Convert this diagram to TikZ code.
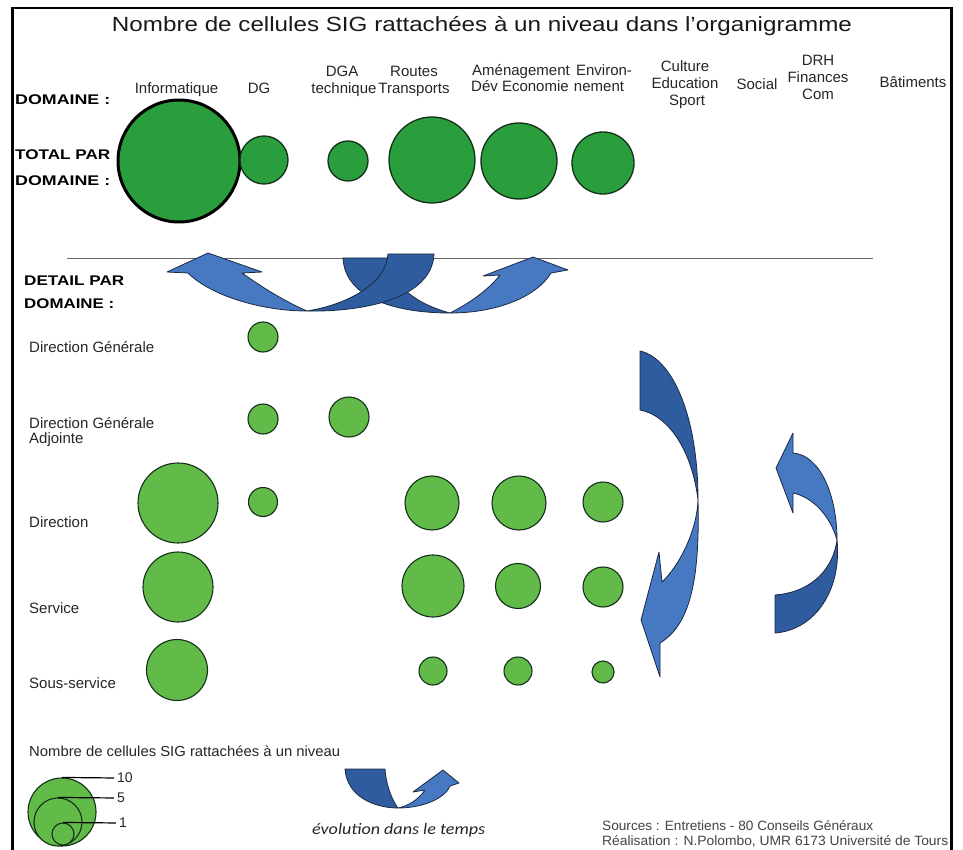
\documentclass[tikz,border=0pt]{standalone}
\usepackage{fontspec}
\setmainfont{Liberation Sans}
\newfontfamily\evofont{Carlito}
\usepackage{graphicx}
\usetikzlibrary{shapes.geometric}
\definecolor{totgreen}{HTML}{2A9D3C}
\definecolor{detgreen}{HTML}{62BB48}
\definecolor{circline}{HTML}{14301A}
\definecolor{bluedark}{HTML}{2F5C9E}
\definecolor{bluelight}{HTML}{4679C2}
\definecolor{blueline}{HTML}{1A2A44}
\definecolor{labgray}{HTML}{262626}
\definecolor{srcgray}{HTML}{444444}
\newcommand{\wbox}[2]{\resizebox{#1}{\height}{#2}}
\begin{document}
\begin{tikzpicture}[x=1pt,y=-1pt,
  lbl/.style={font=\fontsize{15}{17}\selectfont, text=labgray, inner sep=0pt, anchor=base},
  lblw/.style={lbl, anchor=base west},
  boldlbl/.style={font=\bfseries\fontsize{14}{16}\selectfont, text=black, inner sep=0pt, anchor=base west},
  tot/.style={circle, draw=circline, fill=totgreen, line width=1.3pt, inner sep=0pt, minimum size=#1},
  det/.style={circle, draw=circline, fill=detgreen, line width=1.1pt, inner sep=0pt, minimum size=#1},
  ribback/.style={fill=bluedark, draw=blueline, line width=0.8pt, line join=round},
  ribfront/.style={fill=bluelight, draw=blueline, line width=0.8pt, line join=round},
  legline/.style={line width=1.2pt, shorten >=3pt}
]
\fill[white] (0,0) rectangle (963,850);
\useasboundingbox (0,0) rectangle (963,850);

% frame
\draw[line width=2.4pt] (12.5,850) -- (12.5,8) -- (951.5,8) -- (951.5,850);

% title
\node[inner sep=0pt, anchor=base, text=black!90, font=\fontsize{20.5}{24}\selectfont] (title) at (482,32)
  {\wbox{740pt}{Nombre de cellules SIG rattachées à un niveau dans l'organigramme}};

% header
\node[boldlbl] (hdom) at (15,105) {\wbox{95pt}{DOMAINE :}};
\node[lbl] (cinfo) at (176.5,94) {Informatique};
\node[lbl] (cdg) at (259,94) {DG};
\node[lbl] (cdga1) at (342,77) {DGA};
\node[lbl] (cdga2) at (344,94) {technique};
\node[lbl] (crt1) at (414,77) {Routes};
\node[lbl] (crt2) at (414,94) {Transports};
\node[lbl] (cam1) at (521,76) {Aménagement};
\node[lbl] (cam2) at (520,92) {Dév Economie};
\node[lbl] (cenv1) at (604,76) {Environ-};
\node[lbl] (cenv2) at (599,92) {nement};
\node[lbl] (ccul1) at (685,72) {Culture};
\node[lbl] (ccul2) at (685,89) {Education};
\node[lbl] (ccul3) at (687,106) {Sport};
\node[lbl] (csoc) at (757,90) {Social};
\node[lbl] (cdrh1) at (818,66) {DRH};
\node[lbl] (cdrh2) at (818,83) {Finances};
\node[lbl] (cdrh3) at (818,100) {Com};
\node[lbl] (cbat) at (913,88) {Bâtiments};

% totals
\node[boldlbl] (htot1) at (15,160) {\wbox{95pt}{TOTAL PAR}};
\node[boldlbl] (htot2) at (15,186) {\wbox{95pt}{DOMAINE :}};
\node[tot=122pt, draw=black, line width=3pt] (tinfo) at (179,161) {};
\node[tot=48pt] (tdg) at (264,160) {};
\node[tot=40pt] (tdga) at (348,161) {};
\node[tot=86pt] (trt) at (432,160) {};
\node[tot=76pt] (tam) at (519,161) {};
\node[tot=62pt] (tenv) at (603,163) {};

% separator
\coordinate (sepL) at (67,258);
\coordinate (sepR) at (873,258);
\draw[black!60, line width=0.9pt] (sepL) -- (sepR);

\node[boldlbl] (hdet1) at (24,285) {\wbox{100pt}{DETAIL PAR}};
\node[boldlbl] (hdet2) at (24,308) {\wbox{90pt}{DOMAINE :}};

% top crossing arrows
% right-pointing (tail left)
\path[ribback] (343,258) .. controls (345,300) and (400,313) .. (450,313)
   .. controls (420,305) and (392,288) .. (388,258) -- cycle;
\path[ribfront] (450,313) .. controls (500,313) and (538,295) .. (551,273) -- (568,270) -- (533,257)
   -- (483,276) -- (500,275) .. controls (490,288) and (472,302) .. (450,313) -- cycle;
% left-pointing (tail right)
\path[ribback] (434,254) .. controls (432,300) and (360,312) .. (307,311)
   .. controls (345,305) and (386,285) .. (388,254) -- cycle;
\path[ribfront] (307,311) .. controls (260,311) and (210,295) .. (188,273) -- (167,272) -- (208,253)
   -- (262,272) -- (242,273) .. controls (262,287) and (282,300) .. (307,311) -- cycle;

% row labels
\node[lblw] (rdg) at (29,352) {Direction Générale};
\node[lblw] (rdga1) at (29,428) {Direction Générale};
\node[lblw] (rdga2) at (29,443) {Adjointe};
\node[lblw] (rdir) at (29,527) {Direction};
\node[lblw] (rser) at (29,613) {Service};
\node[lblw] (rsous) at (29,688) {Sous-service};

% detail circles
\node[det=30pt] (d1dg) at (263,337) {};
\node[det=30pt] (d2dg) at (263,419) {};
\node[det=40pt] (d2dga) at (349,417) {};
\node[det=80pt] (d3info) at (178,503) {};
\node[det=29pt] (d3dg) at (263,502) {};
\node[det=54pt] (d3rt) at (432,503) {};
\node[det=54pt] (d3am) at (519,503) {};
\node[det=40pt] (d3env) at (603,502) {};
\node[det=70pt] (d4info) at (178,587) {};
\node[det=62pt] (d4rt) at (433,586) {};
\node[det=45pt] (d4am) at (518,586) {};
\node[det=40pt] (d4env) at (603,587) {};
\node[det=61pt] (d5info) at (177,670) {};
\node[det=28pt] (d5rt) at (433,671) {};
\node[det=28pt] (d5am) at (518,671) {};
\node[det=22pt] (d5env) at (603,672) {};

% right arrows
\path[ribback] (640,351) .. controls (672,358) and (698,415) .. (698,500)
   .. controls (692,450) and (668,415) .. (640,410) -- cycle;
\path[ribfront] (698,500) .. controls (697,530) and (680,565) .. (662,582) -- (659,552) -- (641,620)
   -- (660,677) -- (660,643) .. controls (690,625) and (700,580) .. (698,500) -- cycle;

\path[ribfront] (793,453) .. controls (820,455) and (837,495) .. (837,540)
   .. controls (830,515) and (812,497) .. (793,493) -- (793,513) -- (776,468) -- (793,433) -- cycle;
\path[ribback] (837,540) .. controls (842,590) and (815,630) .. (775,633) -- (775,595)
   .. controls (805,593) and (832,575) .. (837,540) -- cycle;

% legend
\node[lblw, font=\fontsize{14.5}{16}\selectfont] (legtitle) at (29,756)
  {\wbox{311pt}{Nombre de cellules SIG rattachées à un niveau}};
\node[det=68pt] (lg10) at (62,812) {};
\node[det=48pt] (lg5) at (58,822) {};
\node[det=22pt] (lg1) at (63,834) {};
\node[inner sep=0pt, anchor=west, text=labgray, font=\fontsize{14}{16}\selectfont] (n10) at (117,778) {10};
\node[inner sep=0pt, anchor=west, text=labgray, font=\fontsize{14}{16}\selectfont] (n5) at (117,798) {5};
\node[inner sep=0pt, anchor=west, text=labgray, font=\fontsize{14}{16}\selectfont] (n1) at (119,823) {1};
\draw[legline] (lg10.north) -- (n10.west);
\draw[legline] (lg5.north) -- (n5.west);
\draw[legline] (lg1.north) -- (n1.west);

\path[ribback] (345,769) .. controls (347,797) and (375,808) .. (398,808)
   .. controls (392,800) and (386,785) .. (385,769) -- cycle;
\path[ribfront] (398,808) .. controls (425,808) and (446,797) .. (450,786) -- (459,783) -- (443,770)
   -- (413,792) -- (425,790) .. controls (418,800) and (408,806) .. (398,808) -- cycle;
\node[inner sep=0pt, anchor=base west, text=labgray, font=\evofont\itshape\fontsize{16}{18}\selectfont] (evo) at (312,834)
  {\wbox{173pt}{évolution dans le temps}};

% sources
\node[inner sep=0pt, anchor=base west, text=srcgray, font=\fontsize{13.5}{15}\selectfont] (src1) at (602,830)
  {\wbox{271pt}{Sources : Entretiens - 80 Conseils Généraux}};
\node[inner sep=0pt, anchor=base west, text=srcgray, font=\fontsize{13.5}{15}\selectfont] (src2) at (602,845)
  {\wbox{346pt}{Réalisation : N.Polombo, UMR 6173 Université de Tours}};
\end{tikzpicture}
\end{document}
